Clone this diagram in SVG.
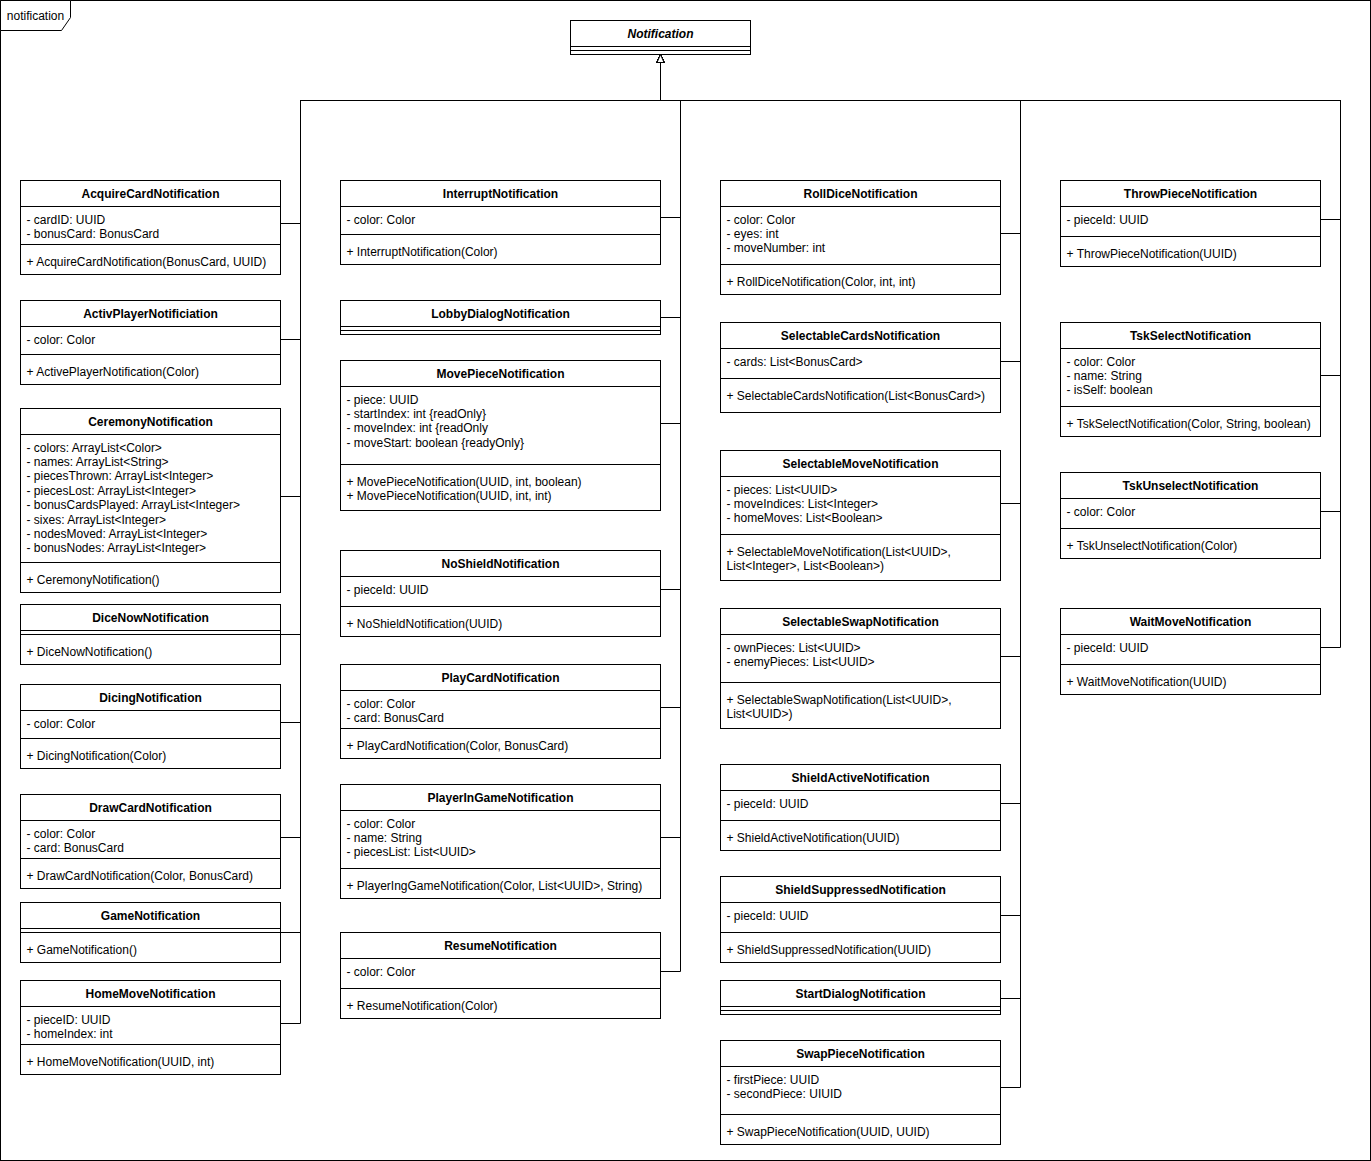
<svg xmlns="http://www.w3.org/2000/svg" width="1371" height="1161" viewBox="0 0 1371 1161">
<style>
.box{fill:#fff;stroke:#000;stroke-width:1}
.ln{fill:none;stroke:#000;stroke-width:1}
.t{font-family:"Liberation Sans",Arial,Helvetica,sans-serif;font-size:12px;fill:#000}
.h{font-weight:bold;text-anchor:middle}
.conn{fill:none;stroke:#000;stroke-width:1;marker-end:url(#inh)}
</style>
<defs>
<marker id="inh" markerUnits="userSpaceOnUse" markerWidth="9" markerHeight="8" refX="0" refY="3.5" orient="auto" overflow="visible"><path d="M0,0L8,3.5L0,7Z" fill="#fff" stroke="#000" stroke-width="1"/></marker>
</defs>
<rect x="0" y="0" width="1371" height="1161" fill="#fff"/>
<g transform="translate(0.5,0.5)">
<g id="frame">
<rect class="ln" x="0" y="0" width="1370" height="1160"/>
<path class="box" d="M0,0H70V17L61,30H0Z"/>
<text class="t" x="35" y="19" text-anchor="middle">notification</text>
</g>
<g id="connectors">
<path class="conn" d="M280,223H300V100H660V62"/>
<path class="conn" d="M280,339H300V100H660V62"/>
<path class="conn" d="M280,496H300V100H660V62"/>
<path class="conn" d="M280,634H300V100H660V62"/>
<path class="conn" d="M280,722H300V100H660V62"/>
<path class="conn" d="M280,837H300V100H660V62"/>
<path class="conn" d="M280,932H300V100H660V62"/>
<path class="conn" d="M280,1023H300V100H660V62"/>
<path class="conn" d="M660,217H680V100H660V62"/>
<path class="conn" d="M660,317H680V100H660V62"/>
<path class="conn" d="M660,423H680V100H660V62"/>
<path class="conn" d="M660,589H680V100H660V62"/>
<path class="conn" d="M660,707H680V100H660V62"/>
<path class="conn" d="M660,837H680V100H660V62"/>
<path class="conn" d="M660,971H680V100H660V62"/>
<path class="conn" d="M1000,233H1020V100H660V62"/>
<path class="conn" d="M1000,361H1020V100H660V62"/>
<path class="conn" d="M1000,503H1020V100H660V62"/>
<path class="conn" d="M1000,656H1020V100H660V62"/>
<path class="conn" d="M1000,803H1020V100H660V62"/>
<path class="conn" d="M1000,915H1020V100H660V62"/>
<path class="conn" d="M1000,998H1020V100H660V62"/>
<path class="conn" d="M1000,1087H1020V100H660V62"/>
<path class="conn" d="M1320,219H1340V100H660V62"/>
<path class="conn" d="M1320,375H1340V100H660V62"/>
<path class="conn" d="M1320,511H1340V100H660V62"/>
<path class="conn" d="M1320,647H1340V100H660V62"/>
</g>
<g id="Notification">
<rect class="box" x="570" y="20" width="180" height="34"/>
<path class="ln" d="M570,46H750M570,50H750"/>
<text class="t h" x="660" y="37" font-style="italic">Notification</text>
</g>
<g id="AcquireCardNotification">
<rect class="box" x="20" y="180" width="260" height="94"/>
<path class="ln" d="M20,206H280M20,244H280"/>
<text class="t h" x="150" y="197">AcquireCardNotification</text>
<text class="t" x="26" y="223">- cardID: UUID</text>
<text class="t" x="26" y="237.4">- bonusCard: BonusCard</text>
<text class="t" x="26" y="265">+ AcquireCardNotification(BonusCard, UUID)</text>
</g>
<g id="ActivPlayerNotificiation">
<rect class="box" x="20" y="300" width="260" height="84"/>
<path class="ln" d="M20,326H280M20,354H280"/>
<text class="t h" x="150" y="317">ActivPlayerNotificiation</text>
<text class="t" x="26" y="343">- color: Color</text>
<text class="t" x="26" y="375">+ ActivePlayerNotification(Color)</text>
</g>
<g id="CeremonyNotification">
<rect class="box" x="20" y="408" width="260" height="184"/>
<path class="ln" d="M20,434H280M20,562H280"/>
<text class="t h" x="150" y="425">CeremonyNotification</text>
<text class="t" x="26" y="451">- colors: ArrayList&lt;Color&gt;</text>
<text class="t" x="26" y="465.4">- names: ArrayList&lt;String&gt;</text>
<text class="t" x="26" y="479.8">- piecesThrown: ArrayList&lt;Integer&gt;</text>
<text class="t" x="26" y="494.2">- piecesLost: ArrayList&lt;Integer&gt;</text>
<text class="t" x="26" y="508.6">- bonusCardsPlayed: ArrayList&lt;Integer&gt;</text>
<text class="t" x="26" y="523">- sixes: ArrayList&lt;Integer&gt;</text>
<text class="t" x="26" y="537.4">- nodesMoved: ArrayList&lt;Integer&gt;</text>
<text class="t" x="26" y="551.8">- bonusNodes: ArrayList&lt;Integer&gt;</text>
<text class="t" x="26" y="583">+ CeremonyNotification()</text>
</g>
<g id="DiceNowNotification">
<rect class="box" x="20" y="604" width="260" height="60"/>
<path class="ln" d="M20,630H280M20,634H280"/>
<text class="t h" x="150" y="621">DiceNowNotification</text>
<text class="t" x="26" y="655">+ DiceNowNotification()</text>
</g>
<g id="DicingNotification">
<rect class="box" x="20" y="684" width="260" height="84"/>
<path class="ln" d="M20,710H280M20,738H280"/>
<text class="t h" x="150" y="701">DicingNotification</text>
<text class="t" x="26" y="727">- color: Color</text>
<text class="t" x="26" y="759">+ DicingNotification(Color)</text>
</g>
<g id="DrawCardNotification">
<rect class="box" x="20" y="794" width="260" height="94"/>
<path class="ln" d="M20,820H280M20,858H280"/>
<text class="t h" x="150" y="811">DrawCardNotification</text>
<text class="t" x="26" y="837">- color: Color</text>
<text class="t" x="26" y="851.4">- card: BonusCard</text>
<text class="t" x="26" y="879">+ DrawCardNotification(Color, BonusCard)</text>
</g>
<g id="GameNotification">
<rect class="box" x="20" y="902" width="260" height="60"/>
<path class="ln" d="M20,928H280M20,932H280"/>
<text class="t h" x="150" y="919">GameNotification</text>
<text class="t" x="26" y="953">+ GameNotification()</text>
</g>
<g id="HomeMoveNotification">
<rect class="box" x="20" y="980" width="260" height="94"/>
<path class="ln" d="M20,1006H280M20,1044H280"/>
<text class="t h" x="150" y="997">HomeMoveNotification</text>
<text class="t" x="26" y="1023">- pieceID: UUID</text>
<text class="t" x="26" y="1037.4">- homeIndex: int</text>
<text class="t" x="26" y="1065">+ HomeMoveNotification(UUID, int)</text>
</g>
<g id="InterruptNotification">
<rect class="box" x="340" y="180" width="320" height="84"/>
<path class="ln" d="M340,206H660M340,234H660"/>
<text class="t h" x="500" y="197">InterruptNotification</text>
<text class="t" x="346" y="223">- color: Color</text>
<text class="t" x="346" y="255">+ InterruptNotification(Color)</text>
</g>
<g id="LobbyDialogNotification">
<rect class="box" x="340" y="300" width="320" height="34"/>
<path class="ln" d="M340,326H660M340,330H660"/>
<text class="t h" x="500" y="317">LobbyDialogNotification</text>
</g>
<g id="MovePieceNotification">
<rect class="box" x="340" y="360" width="320" height="150"/>
<path class="ln" d="M340,386H660M340,464H660"/>
<text class="t h" x="500" y="377">MovePieceNotification</text>
<text class="t" x="346" y="403">- piece: UUID</text>
<text class="t" x="346" y="417.4">- startIndex: int {readOnly}</text>
<text class="t" x="346" y="431.8">- moveIndex: int {readOnly</text>
<text class="t" x="346" y="446.2">- moveStart: boolean {readyOnly}</text>
<text class="t" x="346" y="485">+ MovePieceNotification(UUID, int, boolean)</text>
<text class="t" x="346" y="499.4">+ MovePieceNotification(UUID, int, int)</text>
</g>
<g id="NoShieldNotification">
<rect class="box" x="340" y="550" width="320" height="86"/>
<path class="ln" d="M340,576H660M340,606H660"/>
<text class="t h" x="500" y="567">NoShieldNotification</text>
<text class="t" x="346" y="593">- pieceId: UUID</text>
<text class="t" x="346" y="627">+ NoShieldNotification(UUID)</text>
</g>
<g id="PlayCardNotification">
<rect class="box" x="340" y="664" width="320" height="94"/>
<path class="ln" d="M340,690H660M340,728H660"/>
<text class="t h" x="500" y="681">PlayCardNotification</text>
<text class="t" x="346" y="707">- color: Color</text>
<text class="t" x="346" y="721.4">- card: BonusCard</text>
<text class="t" x="346" y="749">+ PlayCardNotification(Color, BonusCard)</text>
</g>
<g id="PlayerInGameNotification">
<rect class="box" x="340" y="784" width="320" height="114"/>
<path class="ln" d="M340,810H660M340,868H660"/>
<text class="t h" x="500" y="801">PlayerInGameNotification</text>
<text class="t" x="346" y="827">- color: Color</text>
<text class="t" x="346" y="841.4">- name: String</text>
<text class="t" x="346" y="855.8">- piecesList: List&lt;UUID&gt;</text>
<text class="t" x="346" y="889">+ PlayerIngGameNotification(Color, List&lt;UUID&gt;, String)</text>
</g>
<g id="ResumeNotification">
<rect class="box" x="340" y="932" width="320" height="86"/>
<path class="ln" d="M340,958H660M340,988H660"/>
<text class="t h" x="500" y="949">ResumeNotification</text>
<text class="t" x="346" y="975">- color: Color</text>
<text class="t" x="346" y="1009">+ ResumeNotification(Color)</text>
</g>
<g id="RollDiceNotification">
<rect class="box" x="720" y="180" width="280" height="114"/>
<path class="ln" d="M720,206H1000M720,264H1000"/>
<text class="t h" x="860" y="197">RollDiceNotification</text>
<text class="t" x="726" y="223">- color: Color</text>
<text class="t" x="726" y="237.4">- eyes: int</text>
<text class="t" x="726" y="251.8">- moveNumber: int</text>
<text class="t" x="726" y="285">+ RollDiceNotification(Color, int, int)</text>
</g>
<g id="SelectableCardsNotification">
<rect class="box" x="720" y="322" width="280" height="90"/>
<path class="ln" d="M720,348H1000M720,378H1000"/>
<text class="t h" x="860" y="339">SelectableCardsNotification</text>
<text class="t" x="726" y="365">- cards: List&lt;BonusCard&gt;</text>
<text class="t" x="726" y="399">+ SelectableCardsNotification(List&lt;BonusCard&gt;)</text>
</g>
<g id="SelectableMoveNotification">
<rect class="box" x="720" y="450" width="280" height="130"/>
<path class="ln" d="M720,476H1000M720,534H1000"/>
<text class="t h" x="860" y="467">SelectableMoveNotification</text>
<text class="t" x="726" y="493">- pieces: List&lt;UUID&gt;</text>
<text class="t" x="726" y="507.4">- moveIndices: List&lt;Integer&gt;</text>
<text class="t" x="726" y="521.8">- homeMoves: List&lt;Boolean&gt;</text>
<text class="t" x="726" y="555">+ SelectableMoveNotification(List&lt;UUID&gt;,</text>
<text class="t" x="726" y="569.4">List&lt;Integer&gt;, List&lt;Boolean&gt;)</text>
</g>
<g id="SelectableSwapNotification">
<rect class="box" x="720" y="608" width="280" height="120"/>
<path class="ln" d="M720,634H1000M720,682H1000"/>
<text class="t h" x="860" y="625">SelectableSwapNotification</text>
<text class="t" x="726" y="651">- ownPieces: List&lt;UUID&gt;</text>
<text class="t" x="726" y="665.4">- enemyPieces: List&lt;UUID&gt;</text>
<text class="t" x="726" y="703">+ SelectableSwapNotification(List&lt;UUID&gt;,</text>
<text class="t" x="726" y="717.4">List&lt;UUID&gt;)</text>
</g>
<g id="ShieldActiveNotification">
<rect class="box" x="720" y="764" width="280" height="86"/>
<path class="ln" d="M720,790H1000M720,820H1000"/>
<text class="t h" x="860" y="781">ShieldActiveNotification</text>
<text class="t" x="726" y="807">- pieceId: UUID</text>
<text class="t" x="726" y="841">+ ShieldActiveNotification(UUID)</text>
</g>
<g id="ShieldSuppressedNotification">
<rect class="box" x="720" y="876" width="280" height="86"/>
<path class="ln" d="M720,902H1000M720,932H1000"/>
<text class="t h" x="860" y="893">ShieldSuppressedNotification</text>
<text class="t" x="726" y="919">- pieceId: UUID</text>
<text class="t" x="726" y="953">+ ShieldSuppressedNotification(UUID)</text>
</g>
<g id="StartDialogNotification">
<rect class="box" x="720" y="980" width="280" height="34"/>
<path class="ln" d="M720,1006H1000M720,1010H1000"/>
<text class="t h" x="860" y="997">StartDialogNotification</text>
</g>
<g id="SwapPieceNotification">
<rect class="box" x="720" y="1040" width="280" height="104"/>
<path class="ln" d="M720,1066H1000M720,1114H1000"/>
<text class="t h" x="860" y="1057">SwapPieceNotification</text>
<text class="t" x="726" y="1083">- firstPiece: UUID</text>
<text class="t" x="726" y="1097.4">- secondPiece: UIUID</text>
<text class="t" x="726" y="1135">+ SwapPieceNotification(UUID, UUID)</text>
</g>
<g id="ThrowPieceNotification">
<rect class="box" x="1060" y="180" width="260" height="86"/>
<path class="ln" d="M1060,206H1320M1060,236H1320"/>
<text class="t h" x="1190" y="197">ThrowPieceNotification</text>
<text class="t" x="1066" y="223">- pieceId: UUID</text>
<text class="t" x="1066" y="257">+ ThrowPieceNotification(UUID)</text>
</g>
<g id="TskSelectNotification">
<rect class="box" x="1060" y="322" width="260" height="114"/>
<path class="ln" d="M1060,348H1320M1060,406H1320"/>
<text class="t h" x="1190" y="339">TskSelectNotification</text>
<text class="t" x="1066" y="365">- color: Color</text>
<text class="t" x="1066" y="379.4">- name: String</text>
<text class="t" x="1066" y="393.8">- isSelf: boolean</text>
<text class="t" x="1066" y="427">+ TskSelectNotification(Color, String, boolean)</text>
</g>
<g id="TskUnselectNotification">
<rect class="box" x="1060" y="472" width="260" height="86"/>
<path class="ln" d="M1060,498H1320M1060,528H1320"/>
<text class="t h" x="1190" y="489">TskUnselectNotification</text>
<text class="t" x="1066" y="515">- color: Color</text>
<text class="t" x="1066" y="549">+ TskUnselectNotification(Color)</text>
</g>
<g id="WaitMoveNotification">
<rect class="box" x="1060" y="608" width="260" height="86"/>
<path class="ln" d="M1060,634H1320M1060,664H1320"/>
<text class="t h" x="1190" y="625">WaitMoveNotification</text>
<text class="t" x="1066" y="651">- pieceId: UUID</text>
<text class="t" x="1066" y="685">+ WaitMoveNotification(UUID)</text>
</g>
</g>
</svg>
